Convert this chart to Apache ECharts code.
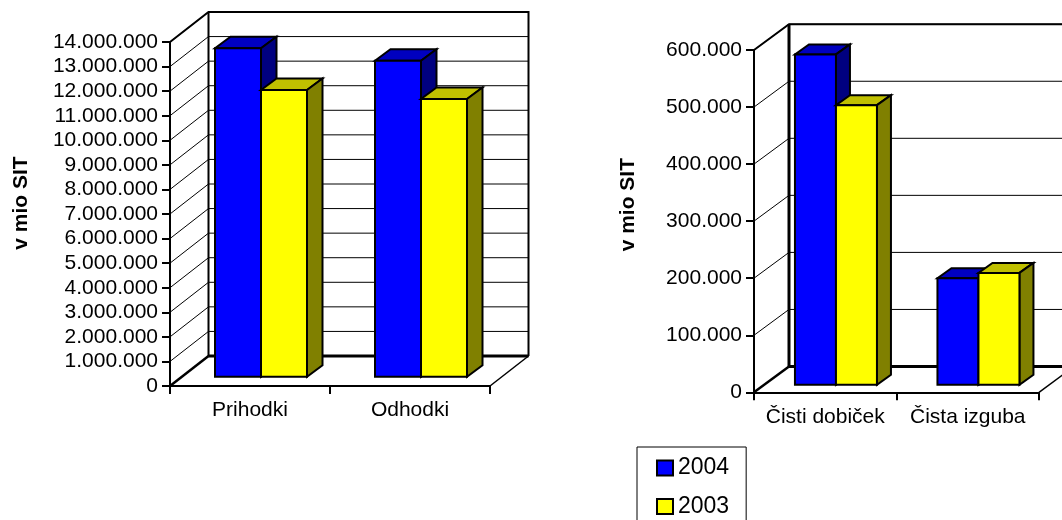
<!DOCTYPE html>
<html>
<head>
<meta charset="utf-8">
<style>html,body{margin:0;padding:0;background:#fff;overflow:hidden}#c{width:1062px;height:520px}</style>
<script src="https://cdn.jsdelivr.net/npm/echarts@6/dist/echarts.min.js"></script>
</head>
<body>
<div id="c"></div>
<script>
const categoriesLeft = ['Prihodki', 'Odhodki'];
const categoriesRight = ['Čisti dobiček', 'Čista izguba'];
const seriesNames = ['2004', '2003'];
const left2004 = [13370000, 12860000];
const left2003 = [11670000, 11300000];
const right2004 = [579000, 186500];
const right2003 = [490000, 196000];
const ticksLeft = [0, 1000000, 2000000, 3000000, 4000000, 5000000, 6000000, 7000000, 8000000, 9000000, 10000000, 11000000, 12000000, 13000000, 14000000];
const ticksRight = [0, 100000, 200000, 300000, 400000, 500000, 600000];

const FONT = '"Liberation Sans", Arial, sans-serif';
const FS = 21;
const styleLeft = { wall: [38.5, 30], front: [11, 9.3], depth: [15.5, 11.5], barW: 46, backW: 2 };
const styleRight = { wall: [35, 25.8], front: [10.7, 7.6], depth: [14, 10], barW: 41, backW: 3 };
const palette = {
  '2004': { face: '#0000FF', top: '#0000C0', side: '#000080' },
  '2003': { face: '#FFFF00', top: '#C0C000', side: '#808000' }
};

function dots(v) { return String(v).replace(/\B(?=(\d{3})+$)/g, '.'); }

function line(pts, w) {
  return { type: 'polyline', shape: { points: pts }, style: { fill: null, stroke: '#000', lineWidth: w, lineJoin: 'miter' } };
}

function gridLines(geo, ax) {
  return {
    type: 'custom', coordinateSystem: 'cartesian2d', xAxisIndex: ax, yAxisIndex: ax, silent: true, z: 1,
    data: (ax === 0 ? ticksLeft : ticksRight).map(v => [0, v]),
    encode: { x: 0, y: 1 },
    renderItem(params, api) {
      const cs = params.coordSys, y = api.coord([0, api.value(1)])[1];
      const bx = cs.x + geo.wall[0], by = y - geo.wall[1];
      return { type: 'group', children: [line([[cs.x, y], [bx, by], [bx + cs.width, by]], 1)] };
    }
  };
}

function frame(geo, ax) {
  return {
    type: 'custom', coordinateSystem: 'cartesian2d', xAxisIndex: ax, yAxisIndex: ax, silent: true, z: 2,
    data: [[0, 0]],
    encode: { x: 0, y: 1 },
    renderItem(params) {
      const cs = params.coordSys, dx = geo.wall[0], dy = geo.wall[1];
      const x0 = cs.x, x1 = cs.x + cs.width, yT = cs.y, yB = cs.y + cs.height;
      return { type: 'group', children: [
        line([[x0, yT], [x0 + dx, yT - dy], [x1 + dx, yT - dy], [x1 + dx, yB - dy]], 2),
        line([[x0 + dx, yT - dy], [x0 + dx, yB - dy]], geo.backW),
        line([[x0 + dx, yB - dy], [x1 + dx, yB - dy]], 3),
        line([[x0, yB], [x0 + dx, yB - dy]], 2.5),
        line([[x1, yB], [x1 + dx, yB - dy]], 1.5)
      ] };
    }
  };
}

function bars(name, values, order, geo, ax) {
  const col = palette[name];
  return {
    type: 'custom', name, coordinateSystem: 'cartesian2d', xAxisIndex: ax, yAxisIndex: ax, silent: true, z: 3 + order,
    itemStyle: { color: col.face, borderColor: '#000', borderWidth: 2 },
    data: values.map((v, i) => [i, v]),
    encode: { x: 0, y: 1 },
    renderItem(params, api) {
      const p = api.coord([api.value(0), api.value(1)]);
      const b = api.coord([api.value(0), 0]);
      const xl = p[0] + geo.front[0] + (order - 1) * geo.barW, xr = xl + geo.barW;
      const yt = p[1] - geo.front[1], yb = b[1] - geo.front[1];
      const dx = geo.depth[0], dy = geo.depth[1];
      const face = (pts, fill) => ({ type: 'polygon', shape: { points: pts }, style: { fill, stroke: '#000', lineWidth: 2, lineJoin: 'miter' } });
      return { type: 'group', children: [
        face([[xl, yt], [xr, yt], [xr + dx, yt - dy], [xl + dx, yt - dy]], col.top),
        face([[xr, yt], [xr + dx, yt - dy], [xr + dx, yb - dy], [xr, yb]], col.side),
        face([[xl, yt], [xr, yt], [xr, yb], [xl, yb]], col.face)
      ] };
    }
  };
}

function xAxis(data, idx) {
  return {
    type: 'category', gridIndex: idx, data, boundaryGap: true,
    axisLine: { show: true, lineStyle: { color: '#000', width: 2 } },
    axisTick: { show: true, length: 8, lineStyle: { color: '#000', width: 2 } },
    axisLabel: { color: '#000', fontFamily: FONT, fontSize: FS, margin: 14, interval: 0 },
    splitLine: { show: false }
  };
}
function yAxis(max, interval, idx, gap, shift) {
  return {
    type: 'value', gridIndex: idx, min: 0, max, interval,
    name: 'v mio SIT', nameLocation: 'middle', nameGap: gap, nameRotate: 90,
    nameTextStyle: { color: '#000', fontFamily: FONT, fontSize: 21, fontWeight: 'bold', padding: [0, 0, 0, shift] },
    axisLine: { show: true, lineStyle: { color: '#000', width: 2 } },
    axisTick: { show: true, length: 8, lineStyle: { color: '#000', width: 2 } },
    axisLabel: { color: '#000', fontFamily: FONT, fontSize: FS, margin: 12, formatter: dots },
    splitLine: { show: false }
  };
}

const chart = echarts.init(document.getElementById('c'), null, { renderer: 'canvas' });
chart.setOption({
  animation: false,
  backgroundColor: '#fff',
  grid: [
    { left: 170, top: 42, width: 320, height: 344, containLabel: false },
    { left: 754, top: 50, width: 285, height: 342.3, containLabel: false }
  ],
  xAxis: [xAxis(categoriesLeft, 0), xAxis(categoriesRight, 1)],
  yAxis: [yAxis(14000000, 1000000, 0, 138, 22), yAxis(600000, 100000, 1, 115, 33)],
  legend: {
    show: true, orient: 'vertical', left: 637, top: 447, height: 120,
    data: seriesNames, icon: 'rect', itemWidth: 16, itemHeight: 15, itemGap: 14.5,
    itemStyle: { borderColor: '#000', borderWidth: 2 },
    padding: [9, 17, 30, 19], borderColor: '#000', borderWidth: 1, selectedMode: false,
    textStyle: { color: '#000', fontFamily: FONT, fontSize: 23, lineHeight: 24 }
  },
  tooltip: { show: false },
  series: [
    gridLines(styleLeft, 0), frame(styleLeft, 0),
    bars('2004', left2004, 0, styleLeft, 0), bars('2003', left2003, 1, styleLeft, 0),
    gridLines(styleRight, 1), frame(styleRight, 1),
    bars('2004', right2004, 0, styleRight, 1), bars('2003', right2003, 1, styleRight, 1)
  ]
});
</script>
</body>
</html>
